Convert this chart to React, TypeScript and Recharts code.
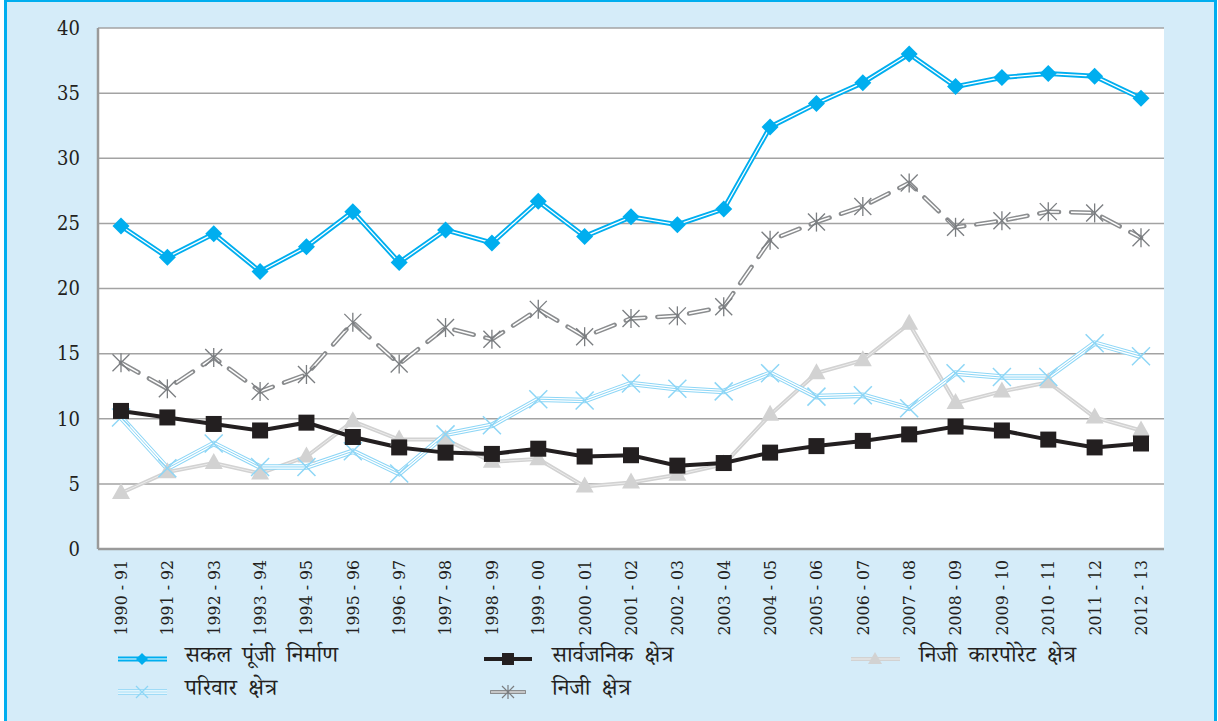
import React from 'react';
import { LineChart, Line, XAxis, YAxis, CartesianGrid } from 'recharts';

const years = [
  '1990 - 91', '1991 - 92', '1992 - 93', '1993 - 94', '1994 - 95', '1995 - 96',
  '1996 - 97', '1997 - 98', '1998 - 99', '1999 - 00', '2000 - 01', '2001 - 02',
  '2002 - 03', '2003 - 04', '2004 - 05', '2005 - 06', '2006 - 07', '2007 - 08',
  '2008 - 09', '2009 - 10', '2010 - 11', '2011 - 12', '2012 - 13'
];

const grossCapital = [24.8, 22.4, 24.2, 21.3, 23.2, 25.9, 22.0, 24.5, 23.5, 26.7, 24.0, 25.5, 24.9, 26.1, 32.4, 34.2, 35.8, 38.0, 35.5, 36.2, 36.5, 36.3, 34.6];
const publicSector = [10.6, 10.1, 9.6, 9.1, 9.7, 8.6, 7.8, 7.4, 7.3, 7.7, 7.1, 7.2, 6.4, 6.6, 7.4, 7.9, 8.3, 8.8, 9.4, 9.1, 8.4, 7.8, 8.1];
const privateCorporate = [4.3, 5.9, 6.6, 5.8, 7.1, 9.8, 8.4, 8.4, 6.7, 6.9, 4.8, 5.1, 5.7, 6.5, 10.3, 13.5, 14.5, 17.3, 11.2, 12.1, 12.8, 10.1, 9.1];
const household = [10.1, 6.2, 8.1, 6.3, 6.3, 7.5, 5.8, 8.8, 9.5, 11.5, 11.4, 12.7, 12.3, 12.1, 13.5, 11.7, 11.8, 10.8, 13.5, 13.2, 13.2, 15.8, 14.8];
const privateSector = [14.3, 12.3, 14.7, 12.1, 13.4, 17.4, 14.2, 17.0, 16.1, 18.4, 16.3, 17.7, 17.9, 18.6, 23.7, 25.1, 26.3, 28.1, 24.7, 25.2, 25.9, 25.8, 23.9];

const yTicks = [0, 5, 10, 15, 20, 25, 30, 35, 40];

const seriesNames = {
  gross: 'सकल पूंजी निर्माण',
  publicSector: 'सार्वजनिक क्षेत्र',
  privateCorporate: 'निजी कारपोरेट क्षेत्र',
  household: 'परिवार क्षेत्र',
  privateSector: 'निजी क्षेत्र'
};

const data = years.map((year, i) => ({
  year,
  gross: grossCapital[i],
  publicSector: publicSector[i],
  privateCorporate: privateCorporate[i],
  household: household[i],
  privateSector: privateSector[i]
}));

const BLUE = '#00aeef';
const LIGHT_BLUE = '#8dd6f6';
const BLACK = '#231f20';
const LIGHT_GRAY = '#d2d2d2';
const GRAY = '#8b8d8f';
const DEVA = "'Noto Serif Devanagari', 'Noto Sans Devanagari', 'Lohit Devanagari', 'FreeSerif', serif";
const SERIF = "'DejaVu Serif Condensed', 'DejaVu Serif'";

// markers
const diamond = (p: any) => {
  if (p.cx == null || p.cy == null) return <g key={p.index} />;
  const r = 8.5;
  return (
    <polygon key={p.index} fill={BLUE}
      points={`${p.cx},${p.cy - r} ${p.cx + r},${p.cy} ${p.cx},${p.cy + r} ${p.cx - r},${p.cy}`} />
  );
};

const square = (p: any) => {
  if (p.cx == null || p.cy == null) return <g key={p.index} />;
  return <rect key={p.index} x={p.cx - 8} y={p.cy - 8} width={16} height={16} fill={BLACK} />;
};

const triangle = (p: any) => {
  if (p.cx == null || p.cy == null) return <g key={p.index} />;
  return (
    <polygon key={p.index} fill={LIGHT_GRAY}
      points={`${p.cx},${p.cy - 10} ${p.cx + 9},${p.cy + 6} ${p.cx - 9},${p.cy + 6}`} />
  );
};

const cross = (p: any) => {
  if (p.cx == null || p.cy == null) return <g key={p.index} />;
  const r = 9;
  return (
    <g key={p.index} stroke={LIGHT_BLUE} strokeWidth={1.5}>
      <line x1={p.cx - r} y1={p.cy - r} x2={p.cx + r} y2={p.cy + r} />
      <line x1={p.cx - r} y1={p.cy + r} x2={p.cx + r} y2={p.cy - r} />
    </g>
  );
};

const asterisk = (p: any) => {
  if (p.cx == null || p.cy == null) return <g key={p.index} />;
  const r = 8.5;
  return (
    <g key={p.index} stroke="#7a7d80" strokeWidth={1.3}>
      <line x1={p.cx - r} y1={p.cy - r} x2={p.cx + r} y2={p.cy + r} />
      <line x1={p.cx - r} y1={p.cy + r} x2={p.cx + r} y2={p.cy - r} />
      <line x1={p.cx} y1={p.cy - r - 1} x2={p.cx} y2={p.cy + r + 1} />
    </g>
  );
};

const ValueTick = (props: any) => {
  const { x, y, payload } = props;
  return (
    <text x={x} y={y} textAnchor="end" dy="0.34em" fontFamily={SERIF} fontSize={20} fill={BLACK}>
      {payload.value}
    </text>
  );
};

const YearTick = (props: any) => {
  const { x, y, payload } = props;
  return (
    <text transform={`translate(${x},${y + 3}) rotate(-90)`} textAnchor="end" dy="0.34em"
      fontFamily={SERIF} fontSize={17.5} fill={BLACK}>
      {payload.value}
    </text>
  );
};

const legendIcon = (key: string) => {
  switch (key) {
    case 'gross':
      return (
        <svg width={49} height={20}>
          <line x1={0} x2={49} y1={10} y2={10} stroke={BLUE} strokeWidth={5} />
          <line x1={0} x2={49} y1={10} y2={10} stroke="#fff" strokeWidth={1.2} />
          <polygon points="24,4 30,10 24,16 18,10" fill={BLUE} />
        </svg>
      );
    case 'publicSector':
      return (
        <svg width={48} height={20}>
          <line x1={0} x2={48} y1={10} y2={10} stroke={BLACK} strokeWidth={4} />
          <rect x={18} y={4} width={12} height={12} fill={BLACK} />
        </svg>
      );
    case 'privateCorporate':
      return (
        <svg width={49} height={20}>
          <line x1={0} x2={49} y1={10} y2={10} stroke={LIGHT_GRAY} strokeWidth={4} />
          <line x1={0} x2={49} y1={10} y2={10} stroke="#eee" strokeWidth={1} />
          <polygon points="24,3 31,15 17,15" fill={LIGHT_GRAY} />
        </svg>
      );
    case 'household':
      return (
        <svg width={49} height={20}>
          <line x1={0} x2={49} y1={10} y2={10} stroke={LIGHT_BLUE} strokeWidth={5.5} />
          <line x1={0} x2={49} y1={10} y2={10} stroke="#fff" strokeWidth={3.5} />
          <line x1={0} x2={49} y1={10} y2={10} stroke={LIGHT_BLUE} strokeWidth={1} />
          <line x1={18} x2={30} y1={4} y2={16} stroke={LIGHT_BLUE} strokeWidth={1.3} />
          <line x1={18} x2={30} y1={16} y2={4} stroke={LIGHT_BLUE} strokeWidth={1.3} />
        </svg>
      );
    default:
      return (
        <svg width={36} height={20}>
          <line x1={1} x2={35} y1={10} y2={10} stroke={GRAY} strokeWidth={4} strokeLinecap="round" />
          <line x1={1} x2={35} y1={10} y2={10} stroke="#fff" strokeWidth={1.2} />
          <g stroke="#7a7d80" strokeWidth={1.2}>
            <line x1={12} y1={4} x2={24} y2={16} />
            <line x1={12} y1={16} x2={24} y2={4} />
            <line x1={18} y1={3} x2={18} y2={17} />
          </g>
        </svg>
      );
  }
};

const legendItems = [
  { key: 'gross', iconX: 118, textX: 185, y: 659 },
  { key: 'publicSector', iconX: 484, textX: 552, y: 659 },
  { key: 'privateCorporate', iconX: 851, textX: 919, y: 659 },
  { key: 'household', iconX: 118, textX: 185, y: 692 },
  { key: 'privateSector', iconX: 490, textX: 552, y: 692 }
];

export default function App() {
  return (
    <div style={{ position: 'absolute', left: 0, top: 0, width: 1218, height: 721, overflow: 'hidden' }}>
      <div style={{
        position: 'absolute', left: 4, top: -1, width: 1213, height: 740, boxSizing: 'border-box',
        border: `3px solid ${BLUE}`, background: '#d5ecf9'
      }} />
      <div style={{ position: 'absolute', left: 0, top: 0 }}>
        <LineChart width={1218} height={721} data={data} margin={{ top: 28, right: 54, left: 58, bottom: 0 }}>
          <CartesianGrid vertical={false} stroke="#a3a3a3" strokeWidth={1.5} fill="#ffffff" />
          <XAxis dataKey="year" interval={0} height={172} padding={{ left: 23, right: 23 }}
            axisLine={{ stroke: '#9a9a9a', strokeWidth: 2.5 }} tickLine={false} tick={<YearTick />} />
          <YAxis width={40} domain={[0, 40]} ticks={yTicks} interval={0} tickLine={false} tickMargin={12}
            axisLine={{ stroke: '#9a9a9a', strokeWidth: 2.5 }} tick={<ValueTick />} />

          <Line dataKey="privateCorporate" name={seriesNames.privateCorporate} stroke={LIGHT_GRAY} strokeWidth={4}
            dot={triangle} activeDot={false} isAnimationActive={false} />
          <Line dataKey="privateCorporate" legendType="none" stroke="#ececec" strokeWidth={1}
            dot={false} activeDot={false} isAnimationActive={false} />

          <Line dataKey="household" name={seriesNames.household} stroke={LIGHT_BLUE} strokeWidth={5.5}
            dot={false} activeDot={false} isAnimationActive={false} />
          <Line dataKey="household" legendType="none" stroke="#ffffff" strokeWidth={3.5}
            dot={false} activeDot={false} isAnimationActive={false} />
          <Line dataKey="household" legendType="none" stroke={LIGHT_BLUE} strokeWidth={1}
            dot={cross} activeDot={false} isAnimationActive={false} />

          <Line dataKey="publicSector" name={seriesNames.publicSector} stroke={BLACK} strokeWidth={4}
            dot={square} activeDot={false} isAnimationActive={false} />

          <Line dataKey="privateSector" name={seriesNames.privateSector} stroke={GRAY} strokeWidth={4.5}
            strokeDasharray="20 12" strokeLinecap="round" dot={false} activeDot={false} isAnimationActive={false} />
          <Line dataKey="privateSector" legendType="none" stroke="#ffffff" strokeWidth={1.5}
            strokeDasharray="20 12" dot={asterisk} activeDot={false} isAnimationActive={false} />

          <Line dataKey="gross" name={seriesNames.gross} stroke={BLUE} strokeWidth={5}
            dot={false} activeDot={false} isAnimationActive={false} />
          <Line dataKey="gross" legendType="none" stroke="#ffffff" strokeWidth={1.3}
            dot={diamond} activeDot={false} isAnimationActive={false} />
        </LineChart>
      </div>
      {legendItems.map((item) => (
        <React.Fragment key={item.key}>
          <div style={{ position: 'absolute', left: item.iconX, top: item.y - 10, height: 20, lineHeight: 0 }}>
            {legendIcon(item.key)}
          </div>
          <div style={{
            position: 'absolute', left: item.textX, top: item.y - 18, height: 36, lineHeight: '36px',
            fontFamily: DEVA, fontSize: 23, wordSpacing: 5, color: BLACK, whiteSpace: 'nowrap'
          }}>
            {seriesNames[item.key as keyof typeof seriesNames]}
          </div>
        </React.Fragment>
      ))}
    </div>
  );
}
